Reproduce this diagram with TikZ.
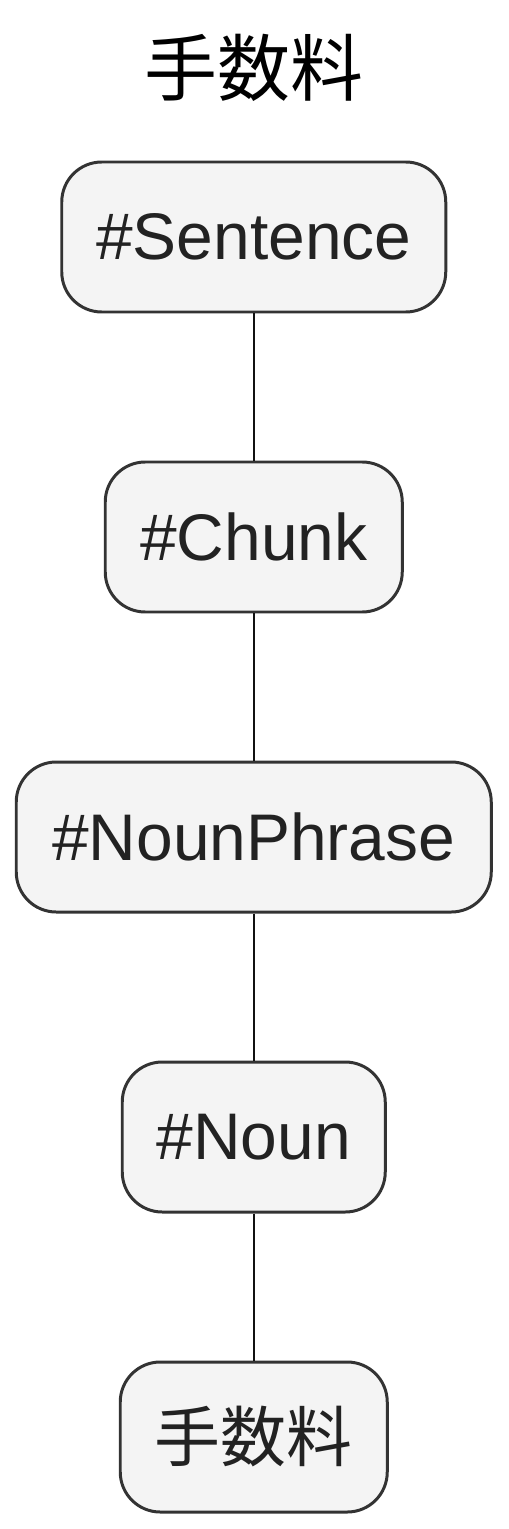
\documentclass[tikz,border=0pt]{standalone}
\usepackage{fontspec}
\usepackage{xcolor}
\setmainfont{Liberation Sans}
\newfontfamily\cjk{Noto Sans CJK JP}
\usetikzlibrary{arrows.meta, calc}
\definecolor{NodeFill}  {HTML}{F4F4F4}
\definecolor{NodeStroke}{HTML}{333333}
\definecolor{NodeText}  {HTML}{222222}
\definecolor{LinkGray}  {HTML}{111111}
\tikzset{
  term/.style={
    draw=NodeStroke, fill=NodeFill, rounded corners=0.8cm,
    minimum height=3.0cm, inner xsep=0pt, line width=1.7pt,
    text=NodeText, font=\fontsize{37.5}{45}\selectfont,
  },
  title/.style={
    font=\cjk\fontsize{41.5}{50}\selectfont, text=black,
  },
  link/.style={
    color=LinkGray, line width=1.4pt,
  },
}

\begin{document}
\begin{tikzpicture}

% ── Frame ─────────────────────────────────────────────────────────────────
\useasboundingbox (0,0) rectangle (10.16,-30.58);

% ── Nodes ─────────────────────────────────────────────────────────────────
\node[title] (TITLE) at (5.075, -1.36) {手数料};
\node[term, minimum width=7.68cm] (SENT) at (5.075,  -4.74) {\#Sentence};
\node[term, minimum width=5.94cm] (CHNK) at (5.075, -10.74) {\#Chunk};
\node[term, minimum width=9.50cm] (NP)   at (5.075, -16.74) {\#NounPhrase};
\node[term, minimum width=5.26cm] (NOUN) at (5.075, -22.74) {\#Noun};
\node[term, minimum width=5.34cm, font=\cjk\fontsize{37.5}{45}\selectfont]
      (WORD) at (5.075, -28.74) {手数料};

% ── Links ─────────────────────────────────────────────────────────────────
\draw[link] (SENT.south) -- (CHNK.north);
\draw[link] (CHNK.south) -- (NP.north);
\draw[link] (NP.south)   -- (NOUN.north);
\draw[link] (NOUN.south) -- (WORD.north);

\end{tikzpicture}
\end{document}
